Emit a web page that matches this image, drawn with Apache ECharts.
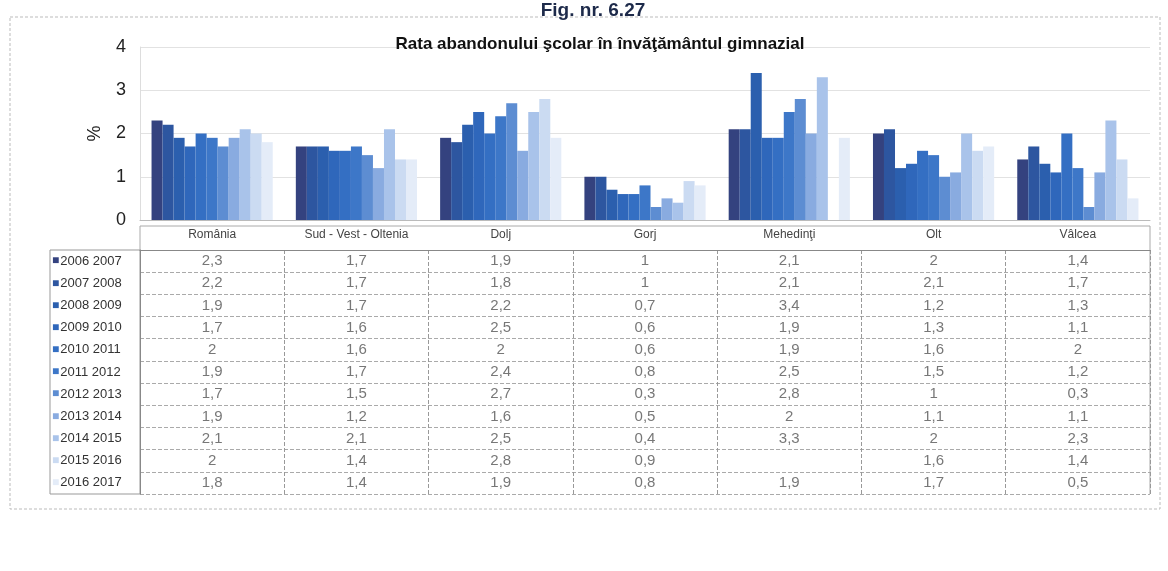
<!DOCTYPE html>
<html>
<head>
<meta charset="utf-8">
<script src="https://cdn.jsdelivr.net/npm/echarts@6/dist/echarts.min.js"></script>
<style>
  html, body { margin: 0; padding: 0; background: #fff; }
  #chart { width: 1168px; height: 571px; }
</style>
</head>
<body>
<div id="chart"></div>
<script>
// judete / regiuni
var regions = ['România', 'Sud - Vest - Oltenia', 'Dolj', 'Gorj', 'Mehedinţi', 'Olt', 'Vâlcea'];
var years = ['2006 2007', '2007 2008', '2008 2009', '2009 2010', '2010 2011', '2011 2012',
  '2012 2013', '2013 2014', '2014 2015', '2015 2016', '2016 2017'];
var yTicks = [0, 1, 2, 3, 4];

// rata abandonului pe ani scolari (o lista pe an, in ordinea regiunilor)
var r0607 = [2.3, 1.7, 1.9, 1.0, 2.1, 2.0, 1.4];
var r0708 = [2.2, 1.7, 1.8, 1.0, 2.1, 2.1, 1.7];
var r0809 = [1.9, 1.7, 2.2, 0.7, 3.4, 1.2, 1.3];
var r0910 = [1.7, 1.6, 2.5, 0.6, 1.9, 1.3, 1.1];
var r1011 = [2.0, 1.6, 2.0, 0.6, 1.9, 1.6, 2.0];
var r1112 = [1.9, 1.7, 2.4, 0.8, 2.5, 1.5, 1.2];
var r1213 = [1.7, 1.5, 2.7, 0.3, 2.8, 1.0, 0.3];
var r1314 = [1.9, 1.2, 1.6, 0.5, 2.0, 1.1, 1.1];
var r1415 = [2.1, 2.1, 2.5, 0.4, 3.3, 2.0, 2.3];
var r1516 = [2.0, 1.4, 2.8, 0.9, null, 1.6, 1.4];
var r1617 = [1.8, 1.4, 1.9, 0.8, 1.9, 1.7, 0.5];
var values = [r0607, r0708, r0809, r0910, r1011, r1112, r1213, r1314, r1415, r1516, r1617];

var colors = ['#34427f', '#2d56a0', '#2b5fae', '#2f67bb', '#346fc3', '#3d77c8',
  '#5d8dd2', '#89abe0', '#a9c3ea', '#cbdbf2', '#e4ecf8'];

var chart = echarts.init(document.getElementById('chart'));

function fmt(v) { return String(v).replace('.', ','); }

var series = years.map(function (y, i) {
  return {
    name: y,
    type: 'bar',
    xAxisIndex: 0,
    yAxisIndex: 0,
    barGap: '0%',
    barCategoryGap: '16%',
    itemStyle: { color: colors[i] },
    data: values[i]
  };
});

// celulele tabelului
var cells = [];
values.forEach(function (row, yi) {
  row.forEach(function (v, ri) {
    if (v !== null) cells.push([ri, yi, v]);
  });
});
series.push({
  type: 'scatter',
  xAxisIndex: 1,
  yAxisIndex: 1,
  symbolSize: 0,
  silent: true,
  label: {
    show: true,
    position: 'inside',
    formatter: function (p) { return fmt(p.value[2]); },
    fontFamily: 'Liberation Sans, sans-serif',
    fontSize: 15,
    color: '#555'
  },
  data: cells
});

var richSq = {};
colors.forEach(function (c, i) {
  richSq['s' + i] = { color: c, fontSize: 12, padding: [0, 1, 0, 0] };
});
richSq.t = { color: '#333', fontSize: 13, fontFamily: 'Liberation Sans, sans-serif' };

var option = {
  backgroundColor: '#fff',
  animation: false,
  title: [
    {
      text: 'Fig. nr. 6.27',
      left: 588, top: -4,
      textAlign: 'center',
      textStyle: { fontSize: 19, fontWeight: 'bold', color: '#1d2a4a', fontFamily: 'Liberation Sans, sans-serif' }
    },
    {
      text: 'Rata abandonului şcolar în învăţământul gimnazial',
      left: 595, top: 31,
      textAlign: 'center',
      textStyle: { fontSize: 17, fontWeight: 'bold', color: '#111', fontFamily: 'Liberation Sans, sans-serif' }
    }
  ],
  grid: [
    { left: 140, right: 18, top: 47, height: 173 },
    { left: 140, right: 18, top: 250, height: 244 }
  ],
  xAxis: [
    {
      type: 'category', gridIndex: 0, data: regions,
      axisLine: { lineStyle: { color: '#bbb' } },
      axisTick: { show: false },
      axisLabel: { show: false }
    },
    {
      type: 'category', gridIndex: 1, data: regions, position: 'top',
      axisLine: { show: true, lineStyle: { color: '#888' } },
      axisTick: { show: false },
      axisLabel: {
        interval: 0,
        margin: 9,
        fontFamily: 'Liberation Sans, sans-serif',
        fontSize: 12, color: '#444'
      },
      splitLine: { show: true, interval: 0, lineStyle: { color: '#999', type: 'dashed' } }
    }
  ],
  yAxis: [
    {
      type: 'value', gridIndex: 0, min: yTicks[0], max: yTicks[yTicks.length - 1], interval: 1,
      name: '%', nameLocation: 'middle', nameGap: 36, nameRotate: 90,
      nameTextStyle: { fontSize: 18, color: '#222', fontFamily: 'Liberation Sans, sans-serif' },
      axisLine: { show: true, lineStyle: { color: '#ddd' } },
      axisTick: { show: false },
      axisLabel: { fontSize: 18, color: '#222', margin: 14, fontFamily: 'Liberation Sans, sans-serif' },
      splitLine: { lineStyle: { color: '#e2e2e2' } }
    },
    {
      type: 'category', gridIndex: 1, data: years, inverse: true,
      axisLine: { show: true, lineStyle: { color: '#888' } },
      axisTick: { show: false },
      axisLabel: {
        interval: 0,
        align: 'left', margin: 88,
        formatter: function (v, i) { return '{s' + i + '|■}{t|' + v + '}'; },
        rich: richSq
      },
      splitLine: { show: true, interval: 0, lineStyle: { color: '#aaa', type: 'dashed' } }
    }
  ],
  graphic: [
    { type: 'rect', shape: { x: 10, y: 17, width: 1150, height: 492 },
      style: { fill: 'none', stroke: '#bbb', lineWidth: 1, lineDash: [3, 2] } },
    { type: 'rect', shape: { x: 50, y: 250, width: 90, height: 244 },
      style: { fill: 'none', stroke: '#999', lineWidth: 1 } },
    { type: 'line', shape: { x1: 140, y1: 226, x2: 1150, y2: 226 },
      style: { stroke: '#aaa', lineWidth: 1 } },
    { type: 'line', shape: { x1: 140, y1: 226, x2: 140, y2: 250 },
      style: { stroke: '#aaa', lineWidth: 1 } },
    { type: 'line', shape: { x1: 1150, y1: 226, x2: 1150, y2: 494 },
      style: { stroke: '#aaa', lineWidth: 1 } }
  ],
  series: series
};
chart.setOption(option);
</script>
</body>
</html>
